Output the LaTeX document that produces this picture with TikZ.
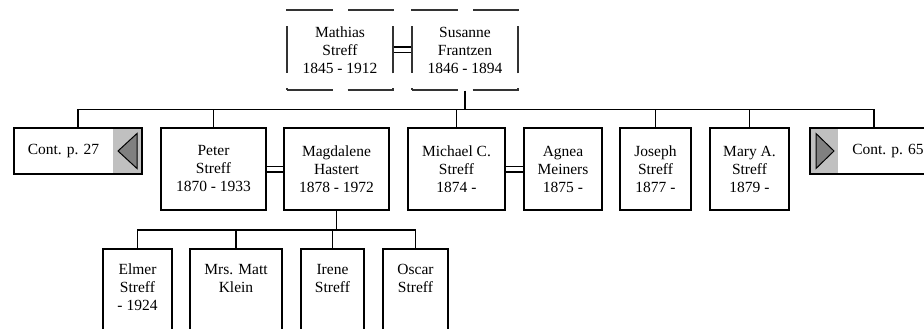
\documentclass[tikz,border=0pt]{standalone}
\usepackage{fontspec}
\setmainfont{Liberation Serif}
\definecolor{grisclair}{HTML}{C0C0C0}
\definecolor{grisfonce}{HTML}{808080}
\begin{document}
\begin{tikzpicture}[x=1pt,y=-1pt]
			\tikzstyle{personne}=[draw,line width=1.6pt,minimum height=82pt,inner sep=0pt,align=center,font=\fontsize{15.5}{18}\selectfont]
			\tikzstyle{ancetre}=[personne,line width=1.3pt,color=black!80,text=black,dash pattern=on 47pt off 15pt,dash phase=1.5pt,minimum width=106pt,minimum height=80pt]
			\tikzstyle{suite}=[draw,line width=2pt,minimum width=128pt,minimum height=46pt,inner sep=0pt]
			\tikzstyle{suitetexte}=[inner sep=0pt,font=\fontsize{15.5}{18}\selectfont]
			\tikzstyle{pointe}=[draw=black,line width=1pt,fill=grisfonce,line join=miter]
			\tikzstyle{lien}=[line width=1.6pt]
			\tikzstyle{mariage}=[line width=1.5pt,double,double distance=4pt]
			\def\NiveauA{50}
			\def\NiveauB{169}
			\def\NiveauC{290}
			\def\NiveauSuite{151}
			\useasboundingbox (0,0) rectangle (924,329);
			% parents
			\node[ancetre] (mathias) at (340,\NiveauA) {Mathias\\Streff\\1845 - 1912};
			\node[ancetre] (susanne) at (465,\NiveauA) {Susanne\\Frantzen\\1846 - 1894};
			% enfants
			\node[suite,path picture={\fill[grisclair] ([xshift=-29pt]path picture bounding box.north east) rectangle (path picture bounding box.south east);}] (cont27) at (78,\NiveauSuite) {};
			\node[personne,minimum width=105pt] (peter) at (213.5,\NiveauB) {Peter\\Streff\\1870 - 1933};
			\node[personne,minimum width=105pt] (magdalene) at (336.5,\NiveauB) {Magdalene\\Hastert\\1878 - 1972};
			\node[personne,minimum width=97pt] (michael) at (456.5,\NiveauB) {Michael C.\\Streff\\1874 -};
			\node[personne,minimum width=78pt] (agnea) at (563,\NiveauB) {Agnea\\Meiners\\1875 -};
			\node[personne,minimum width=71pt] (joseph) at (655.5,\NiveauB) {Joseph\\Streff\\1877 -};
			\node[personne,minimum width=79pt] (mary) at (749.5,\NiveauB) {Mary A.\\Streff\\1879 -};
			\node[suite,path picture={\fill[grisclair] (path picture bounding box.north west) rectangle ([xshift=28pt]path picture bounding box.south west);}] (cont65) at (874,\NiveauSuite) {};
			\node[suitetexte] (texte27) at ([xshift=-14.5pt]cont27.center) {Cont. p. 27};
			\node[suitetexte] (texte65) at ([xshift=14pt]cont65.center) {Cont. p. 65};
			\draw[pointe] ([xshift=-25pt]cont27.east) -- ([xshift=-6pt,yshift=17.5pt]cont27.east) -- ([xshift=-6pt,yshift=-17.5pt]cont27.east) -- cycle;
			\draw[pointe] ([xshift=25pt]cont65.west) -- ([xshift=7pt,yshift=17.5pt]cont65.west) -- ([xshift=7pt,yshift=-17.5pt]cont65.west) -- cycle;
			% petits-enfants
			\node[personne,minimum width=69pt] (elmer) at (137.5,\NiveauC) {Elmer\\Streff\\- 1924\strut};
			\node[personne,minimum width=92pt] (matt) at (236,\NiveauC) {Mrs. Matt\\Klein\\\strut};
			\node[personne,minimum width=63pt] (irene) at (332.5,\NiveauC) {Irene\\Streff\\\strut};
			\node[personne,minimum width=65pt] (oscar) at (415.5,\NiveauC) {Oscar\\Streff\\\strut};
			% liens
			\coordinate (barreA) at (0,109.5);
			\coordinate (barreB) at (0,230);
			\draw[mariage] (mathias) -- (susanne);
			\draw[mariage] (peter) -- (magdalene);
			\draw[mariage] (michael) -- (agnea);
			\draw[lien] (susanne.south) -- (susanne.south |- barreA);
			\draw[lien] (cont27.north) -- (cont27.north |- barreA) -- (cont65.north |- barreA) -- (cont65.north);
			\foreach \n in {peter,michael,joseph,mary}
				\draw[lien] (\n.north) -- (\n.north |- barreA);
			\draw[lien] (magdalene.south) -- (magdalene.south |- barreB);
			\draw[lien] (elmer.north) -- (elmer.north |- barreB) -- (oscar.north |- barreB) -- (oscar.north);
			\foreach \n in {matt,irene}
				\draw[lien] (\n.north) -- (\n.north |- barreB);
\end{tikzpicture}
\end{document}
